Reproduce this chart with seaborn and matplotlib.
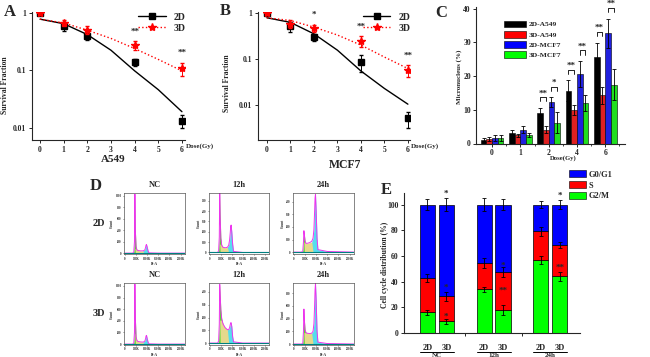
import matplotlib
matplotlib.use("Agg")
from matplotlib import pyplot as plt
from matplotlib.lines import Line2D
from matplotlib.patches import Patch
from matplotlib.ticker import FixedLocator
import seaborn as sns
import numpy as np
import pandas as pd

# ---- survival (A, B)
dose = [0, 1, 2, 4, 6]
fit_dose = [0, 1, 2, 3, 4, 5, 6]
a549_2d = [1.0, 0.586, 0.39, 0.139, 0.0133]
a549_2d_err = [0.0, 0.1, 0.055, 0.02, 0.0036]
a549_3d = [1.0, 0.67, 0.51, 0.28, 0.108]
a549_3d_err = [0.0, 0.07, 0.075, 0.05, 0.028]
a549_2d_fit = [0.78, 0.65, 0.42, 0.224, 0.098, 0.046, 0.019]
a549_3d_fit = [0.78, 0.67, 0.50, 0.36, 0.24, 0.155, 0.098]
a549_stars = [(4, 0.47, '**'), (6, 0.2, '**')]

mcf7_2d = [1.0, 0.507, 0.30, 0.086, 0.0052]
mcf7_2d_err = [0.0, 0.12, 0.05, 0.035, 0.002]
mcf7_3d = [1.0, 0.58, 0.47, 0.25, 0.057]
mcf7_3d_err = [0.0, 0.12, 0.08, 0.07, 0.016]
mcf7_2d_fit = [0.78, 0.62, 0.35, 0.155, 0.055, 0.023, 0.0105]
mcf7_3d_fit = [0.78, 0.68, 0.49, 0.33, 0.20, 0.11, 0.062]
mcf7_stars = [(2, 0.9, '*'), (4, 0.49, '**'), (6, 0.12, '**')]

# ---- micronucleus (C)
doses_c = ['0', '1', '2', '4', '6']
groups_c = ['2D-A549', '3D-A549', '2D-MCF7', '3D-MCF7']
mn_2d_a549 = [1.0, 3.2, 9.1, 15.7, 25.7]
mn_3d_a549 = [1.2, 2.4, 4.1, 10.0, 14.3]
mn_2d_mcf7 = [1.7, 4.1, 12.2, 20.6, 32.7]
mn_3d_mcf7 = [1.6, 2.5, 6.2, 12.0, 17.4]
err_2d_a549 = [0.7, 0.8, 1.4, 3.0, 4.2]
err_3d_a549 = [0.6, 0.4, 1.0, 1.5, 2.6]
err_2d_mcf7 = [0.9, 1.0, 1.5, 3.8, 4.3]
err_3d_mcf7 = [0.9, 0.6, 3.0, 2.5, 4.6]
c_sig = [(2, 0, '**'), (2, 2, '*'), (3, 0, '**'), (3, 2, '**'), (4, 0, '**'), (4, 2, '**')]

# ---- flow histograms (D)
hist_ch = [0, 350, 400, 430, 450, 470, 500, 540, 600, 700, 800, 860, 900, 930, 950, 970,
           1000, 1040, 1080, 1500, 2700]
hist_2d_nc = [0, 0, 20, 200, 1030, 400, 120, 55, 45, 40, 40, 45, 60, 100, 140, 150, 110, 40, 5, 0, 0]
hist_2d_12h = [0, 0, 15, 150, 575, 350, 140, 70, 50, 45, 50, 70, 120, 190, 250, 265, 200, 80, 10, 0, 0]
hist_2d_24h = [0, 0, 10, 80, 170, 140, 90, 70, 70, 75, 85, 110, 180, 320, 430, 460, 330, 110, 20, 5, 0]
hist_3d_nc = [0, 0, 20, 200, 1030, 450, 130, 60, 45, 38, 35, 40, 55, 95, 140, 150, 100, 35, 5, 0, 0]
hist_3d_12h = [0, 0, 15, 150, 460, 380, 260, 190, 150, 120, 105, 105, 120, 145, 158, 160, 130, 50, 10, 0, 0]
hist_3d_24h = [0, 0, 15, 200, 550, 380, 230, 180, 170, 165, 170, 200, 320, 600, 850, 950, 700, 200, 30, 8, 0]
hist_titles = ['NC', '12h', '24h']

# ---- cell cycle (E)
e_cells = ['2D', '3D']
e_groups = ['NC', '12h', '24h']
g2m = [16, 9, 34, 18, 56.6, 44.2]
g2m_err = [2, 2, 2, 4, 3, 3.5]
s_phase = [27, 19.5, 20.5, 29.5, 22.6, 24.1]
s_err = [3, 3.5, 4, 4, 3.5, 2.5]
g0g1 = [57, 71.5, 45.5, 52.5, 20.8, 31.7]
g0g1_err = [4, 5, 5, 4, 3, 3.5]
e_stars = [(1, 108, '*'), (1, 35, '*'), (1, 13, '*'), (3, 52, '*'), (3, 33, '**'),
           (5, 107, '*'), (5, 51, '**')]

sns.set_style("ticks")
plt.rcParams['font.family'] = ['Liberation Serif', 'DejaVu Serif']
plt.rcParams['font.weight'] = 'bold'
plt.rcParams['axes.labelweight'] = 'bold'
plt.rcParams['axes.linewidth'] = 0.8
plt.rcParams['xtick.major.width'] = 0.7
plt.rcParams['ytick.major.width'] = 0.7
plt.rcParams['xtick.major.size'] = 2.5
plt.rcParams['ytick.major.size'] = 2.5

W, H = 650, 357
fig = plt.figure(figsize=(6.5, 3.57), dpi=100)


def px_axes(l, t, r, b):
    return fig.add_axes([l / W, 1 - b / H, (r - l) / W, (b - t) / H])


def ftext(x, y, s, **kw):
    kw.setdefault('ha', 'center')
    kw.setdefault('va', 'center')
    kw.setdefault('fontweight', 'bold')
    fig.text(x / W, 1 - y / H, s, **kw)


def survival(ax, d2, e2, d3, e3, f2, f3, stars, xlim, ylim):
    ax.set_yscale('log')
    sns.lineplot(x=fit_dose, y=f2, ax=ax, color='black', lw=1)
    sns.lineplot(x=fit_dose, y=f3, ax=ax, color='red', lw=1, linestyle=':')
    ax.errorbar(dose, d2, yerr=e2, fmt='s', color='black', ms=4, capsize=1.5, elinewidth=0.7, zorder=3)
    ax.errorbar(dose, d3, yerr=e3, fmt='*', color='red', ms=6, capsize=1.5, elinewidth=0.7, zorder=4)
    for x, y, s in stars:
        ax.text(x, y, s, ha='center', va='center', fontsize=6.5, fontweight='bold')
    ax.set_xlim(*xlim)
    ax.set_ylim(*ylim)
    ax.set_xticks(range(7))
    ax.set_yticks([0.01, 0.1, 1])
    ax.set_yticklabels(['0.01', '0.1', '1'])
    ax.minorticks_off()
    ax.tick_params(labelsize=5.5, pad=1.5)
    sns.despine(ax=ax)
    handles = [Line2D([], [], color='black', marker='s', ms=4, lw=1),
               Line2D([], [], color='red', marker='*', ms=6, lw=1, linestyle=':')]
    ax.legend(handles, ['2D', '3D'], loc='upper right', bbox_to_anchor=(1.04, 1.04), frameon=False,
              fontsize=7, handlelength=2.8, labelspacing=0.2, borderaxespad=0.2)


axA = px_axes(32, 12, 185, 140)
survival(axA, a549_2d, a549_2d_err, a549_3d, a549_3d_err, a549_2d_fit, a549_3d_fit,
         a549_stars, (-0.34, 6.13), (0.0061, 1.04))
axB = px_axes(258, 12, 410, 140)
survival(axB, mcf7_2d, mcf7_2d_err, mcf7_3d, mcf7_3d_err, mcf7_2d_fit, mcf7_3d_fit,
         mcf7_stars, (-0.38, 6.09), (0.00176, 1.04))

ftext(10, 12, 'A', fontsize=12)
ftext(225, 11, 'B', fontsize=12)
ftext(5, 85, 'Survival Fraction', rotation=90, fontsize=5.5)
ftext(227, 83, 'Survival Fraction', rotation=90, fontsize=5.5)
ftext(186, 146, 'Dose(Gy)', ha='left', fontsize=5)
ftext(411, 146, 'Dose(Gy)', ha='left', fontsize=5)
ftext(113, 160, 'A549', fontsize=8)
ftext(345, 165, 'MCF7', fontsize=8.5)

# ---- C
axC = px_axes(476, 7, 625, 143.5)
mn_vals = [mn_2d_a549, mn_3d_a549, mn_2d_mcf7, mn_3d_mcf7]
mn_errs = [err_2d_a549, err_3d_a549, err_2d_mcf7, err_3d_mcf7]
df = pd.DataFrame({
    'dose': doses_c * 4,
    'group': np.repeat(groups_c, len(doses_c)),
    'value': np.concatenate(mn_vals),
})
c_colors = ['#000000', '#ff0000', '#0000ff', '#00ff00']
sns.barplot(data=df, x='dose', y='value', hue='group', order=doses_c, hue_order=groups_c,
            palette=c_colors, edgecolor='black', linewidth=0.4, errorbar=None,
            width=0.8, legend=False, ax=axC)
offs = [-0.3, -0.1, 0.1, 0.3]
for j in range(4):
    xs = np.arange(len(doses_c)) + offs[j]
    axC.errorbar(xs, mn_vals[j], yerr=mn_errs[j], fmt='none', ecolor='black',
                 elinewidth=0.6, capsize=1.3, capthick=0.6)
for i, j, s in c_sig:
    top = max(mn_vals[j][i] + mn_errs[j][i], mn_vals[j + 1][i] + mn_errs[j + 1][i])
    leg = top + 2.0
    br = leg + 1.2
    x0, x1 = i + offs[j], i + offs[j + 1]
    axC.plot([x0, x0, x1, x1], [leg, br, br, leg], color='black', lw=0.6, clip_on=False)
    axC.text((x0 + x1) / 2, br, s, ha='center', va='bottom', fontsize=6.5,
             fontweight='bold', clip_on=False)
axC.set_xlim(-0.57, 4.7)
axC.set_ylim(0, 40.5)
axC.set_yticks([0, 10, 20, 30, 40])
axC.xaxis.set_minor_locator(FixedLocator([0.5, 1.5, 2.5, 3.5, 4.5]))
axC.tick_params(which='minor', length=1.5, width=0.6)
axC.set_xlabel('')
axC.set_ylabel('')
axC.tick_params(labelsize=5.5, pad=1.2)
sns.despine(ax=axC)
c_handles = [Patch(facecolor=c, edgecolor='black', lw=0.4) for c in c_colors]
axC.legend(c_handles, groups_c, loc='upper left', bbox_to_anchor=(0.14, 0.95), frameon=False,
           fontsize=5.4, handlelength=3.0, handleheight=1.0, labelspacing=0.45, handletextpad=0.4)
ftext(441, 13, 'C', fontsize=12)
ftext(459, 77, 'Micronucleus (%)', rotation=90, fontsize=5)
ftext(563, 158, 'Dose(Gy)', fontsize=4.8)

# ---- D
hist_rows = [[hist_2d_nc, hist_2d_12h, hist_2d_24h], [hist_3d_nc, hist_3d_12h, hist_3d_24h]]
hist_ylims = [[(1050, 200), (575, 100), (470, 100)], [(1050, 200), (470, 100), (960, 200)]]
col_lr = [(124, 185), (209, 269), (293, 354)]
row_tb = [(193, 254), (283, 345)]
ch = np.array(hist_ch)
for r in range(2):
    for c in range(3):
        ax = px_axes(col_lr[c][0], row_tb[r][0], col_lr[c][1], row_tb[r][1])
        cnt = np.array(hist_rows[r][c])
        ax.fill_between(ch, cnt, where=ch <= 540, color='#55dd33', lw=0, interpolate=True)
        ax.fill_between(ch, np.minimum(cnt, 80 if r == 0 else 180), where=(ch >= 470) & (ch <= 930),
                        color='#e6d98c', lw=0, interpolate=True)
        ax.fill_between(ch, cnt, where=(ch >= 860) & (ch <= 1080), color='#55ddee', lw=0, interpolate=True)
        sns.lineplot(x=hist_ch, y=hist_rows[r][c], ax=ax, color='#ee33ee', lw=0.7)
        ax.axhline(0, color='#008080', lw=0.8)
        ymax, step = hist_ylims[r][c]
        ax.set_xlim(-40, 2700)
        ax.set_ylim(-15, ymax)
        ax.set_xticks([0, 500, 1000, 1500, 2000, 2500])
        ax.set_xticklabels(['0', '500K', '1000K', '1500K', '2000K', '2500K'])
        ax.set_yticks(np.arange(0, ymax, step))
        ax.tick_params(labelsize=2.2, length=1, width=0.4, pad=0.8)
        for sp in ax.spines.values():
            sp.set_linewidth(0.5)
            sp.set_color('#555555')
        ax.set_xlabel('PI-A', fontsize=2.5, labelpad=1)
        ax.set_ylabel('Count', fontsize=2.5, labelpad=1)
        ftext((col_lr[c][0] + col_lr[c][1]) / 2, row_tb[r][0] - 8, hist_titles[c], fontsize=6)
ftext(96, 186, 'D', fontsize=12)
ftext(99, 224, '2D', fontsize=7.5)
ftext(99, 314, '3D', fontsize=7.5)

# ---- E
axE = px_axes(404, 193, 580, 333)
pos = [g * 3 + k for g in range(len(e_groups)) for k in range(len(e_cells))]
s_top = [a + b for a, b in zip(g2m, s_phase)]
tot = [a + b for a, b in zip(s_top, g0g1)]
axE.bar(pos, g2m, width=0.8, color='#00ff00', edgecolor='black', lw=0.5)
axE.bar(pos, s_phase, bottom=g2m, width=0.8, color='#ff0000', edgecolor='black', lw=0.5)
axE.bar(pos, g0g1, bottom=s_top, width=0.8, color='#0000ff', edgecolor='black', lw=0.5)
for ys, es in [(g2m, g2m_err), (s_top, s_err), (tot, g0g1_err)]:
    axE.errorbar(pos, ys, yerr=es, fmt='none', ecolor='black', elinewidth=0.6, capsize=1.3, capthick=0.6)
for i, y, s in e_stars:
    axE.text(pos[i], y, s, ha='center', va='center', fontsize=6.5, fontweight='bold', clip_on=False)
axE.set_xlim(-1.24, 8.07)
axE.set_ylim(0, 109)
axE.set_yticks([0, 20, 40, 60, 80, 100])
axE.set_xticks([2, 5])
axE.set_xticklabels([])
axE.tick_params(labelsize=5.5, pad=1.5)
sns.despine(ax=axE)
tr = axE.get_xaxis_transform()
for g, grp in enumerate(e_groups):
    for k, cell in enumerate(e_cells):
        axE.text(g * 3 + k, -0.105, cell, transform=tr, ha='center', va='center',
                 fontsize=6, fontweight='bold', clip_on=False)
    axE.plot([g * 3 - 0.4, g * 3 + 1.4], [-0.137, -0.137], transform=tr, color='black',
             lw=0.7, clip_on=False)
    axE.text(g * 3 + 0.5, -0.163, grp, transform=tr, ha='center', va='center',
             fontsize=5, fontweight='bold', clip_on=False)
e_handles = [Patch(facecolor=c, edgecolor='black', lw=0.4) for c in ['#0000ff', '#ff0000', '#00ff00']]
fig.legend(e_handles, ['G0/G1', 'S', 'G2/M'], loc='upper left', bbox_to_anchor=(566 / W, 1 - 167 / H),
           frameon=False, fontsize=6, handlelength=2.0, handleheight=0.9, labelspacing=0.3,
           handletextpad=0.3, borderaxespad=0)
ftext(386, 190, 'E', fontsize=12)
ftext(385, 265, 'Cell cycle distribution (%)', rotation=90, fontsize=5.5)

plt.savefig("out.png", dpi=100)
